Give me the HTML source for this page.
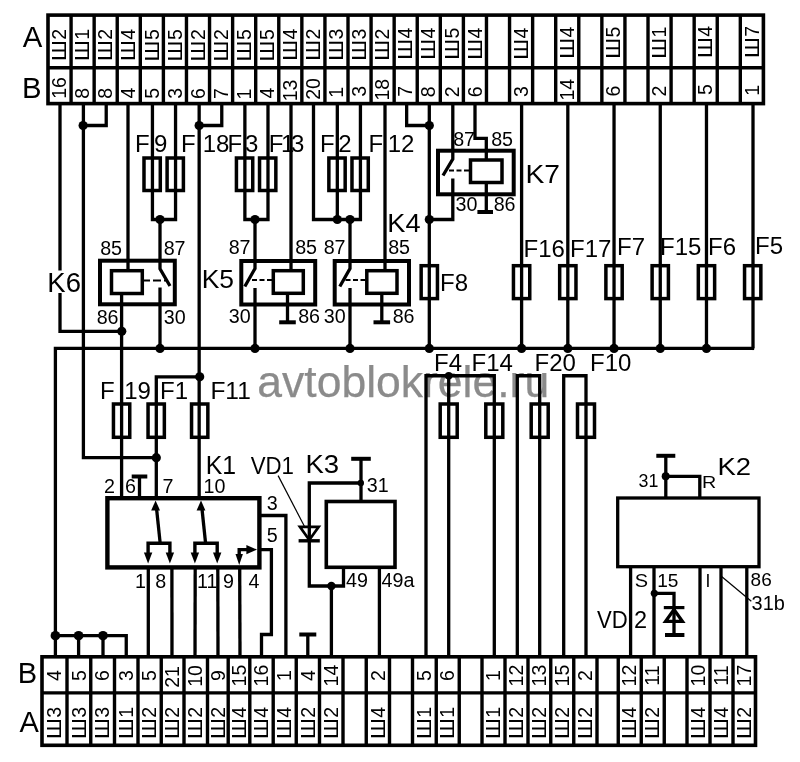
<!DOCTYPE html>
<html><head><meta charset="utf-8"><title>avtoblokrele.ru</title>
<style>html,body{margin:0;padding:0;background:#fff}svg{display:block;will-change:transform}text{font-family:"Liberation Sans",Arial,sans-serif}</style>
</head><body>
<svg width="800" height="762" viewBox="0 0 800 762">
<rect width="800" height="762" fill="#fff"/>
<text x="257.31" y="397.2" font-size="44.5" text-anchor="start" fill="#8b8b8b" stroke="#8b8b8b" stroke-width="0.25">avtoblokrele.ru</text>
<rect x="48" y="15.1" width="715.4" height="88.5" fill="none" stroke="#000" stroke-width="3.6"/>
<path d="M48 67.8 L763.4 67.8" fill="none" stroke="#000" stroke-width="3.4" stroke-linecap="butt" stroke-linejoin="miter"/>
<path d="M71.0774 15.1 L71.0774 103.6" fill="none" stroke="#000" stroke-width="3.4" stroke-linecap="butt" stroke-linejoin="miter"/>
<path d="M94.1548 15.1 L94.1548 103.6" fill="none" stroke="#000" stroke-width="3.4" stroke-linecap="butt" stroke-linejoin="miter"/>
<path d="M117.232 15.1 L117.232 103.6" fill="none" stroke="#000" stroke-width="3.4" stroke-linecap="butt" stroke-linejoin="miter"/>
<path d="M140.31 15.1 L140.31 103.6" fill="none" stroke="#000" stroke-width="3.4" stroke-linecap="butt" stroke-linejoin="miter"/>
<path d="M163.387 15.1 L163.387 103.6" fill="none" stroke="#000" stroke-width="3.4" stroke-linecap="butt" stroke-linejoin="miter"/>
<path d="M186.465 15.1 L186.465 103.6" fill="none" stroke="#000" stroke-width="3.4" stroke-linecap="butt" stroke-linejoin="miter"/>
<path d="M209.542 15.1 L209.542 103.6" fill="none" stroke="#000" stroke-width="3.4" stroke-linecap="butt" stroke-linejoin="miter"/>
<path d="M232.619 15.1 L232.619 103.6" fill="none" stroke="#000" stroke-width="3.4" stroke-linecap="butt" stroke-linejoin="miter"/>
<path d="M255.697 15.1 L255.697 103.6" fill="none" stroke="#000" stroke-width="3.4" stroke-linecap="butt" stroke-linejoin="miter"/>
<path d="M278.774 15.1 L278.774 103.6" fill="none" stroke="#000" stroke-width="3.4" stroke-linecap="butt" stroke-linejoin="miter"/>
<path d="M301.852 15.1 L301.852 103.6" fill="none" stroke="#000" stroke-width="3.4" stroke-linecap="butt" stroke-linejoin="miter"/>
<path d="M324.929 15.1 L324.929 103.6" fill="none" stroke="#000" stroke-width="3.4" stroke-linecap="butt" stroke-linejoin="miter"/>
<path d="M348.006 15.1 L348.006 103.6" fill="none" stroke="#000" stroke-width="3.4" stroke-linecap="butt" stroke-linejoin="miter"/>
<path d="M371.084 15.1 L371.084 103.6" fill="none" stroke="#000" stroke-width="3.4" stroke-linecap="butt" stroke-linejoin="miter"/>
<path d="M394.161 15.1 L394.161 103.6" fill="none" stroke="#000" stroke-width="3.4" stroke-linecap="butt" stroke-linejoin="miter"/>
<path d="M417.239 15.1 L417.239 103.6" fill="none" stroke="#000" stroke-width="3.4" stroke-linecap="butt" stroke-linejoin="miter"/>
<path d="M440.316 15.1 L440.316 103.6" fill="none" stroke="#000" stroke-width="3.4" stroke-linecap="butt" stroke-linejoin="miter"/>
<path d="M463.394 15.1 L463.394 103.6" fill="none" stroke="#000" stroke-width="3.4" stroke-linecap="butt" stroke-linejoin="miter"/>
<path d="M486.471 15.1 L486.471 103.6" fill="none" stroke="#000" stroke-width="3.4" stroke-linecap="butt" stroke-linejoin="miter"/>
<path d="M509.548 15.1 L509.548 103.6" fill="none" stroke="#000" stroke-width="3.4" stroke-linecap="butt" stroke-linejoin="miter"/>
<path d="M532.626 15.1 L532.626 103.6" fill="none" stroke="#000" stroke-width="3.4" stroke-linecap="butt" stroke-linejoin="miter"/>
<path d="M555.703 15.1 L555.703 103.6" fill="none" stroke="#000" stroke-width="3.4" stroke-linecap="butt" stroke-linejoin="miter"/>
<path d="M578.781 15.1 L578.781 103.6" fill="none" stroke="#000" stroke-width="3.4" stroke-linecap="butt" stroke-linejoin="miter"/>
<path d="M601.858 15.1 L601.858 103.6" fill="none" stroke="#000" stroke-width="3.4" stroke-linecap="butt" stroke-linejoin="miter"/>
<path d="M624.935 15.1 L624.935 103.6" fill="none" stroke="#000" stroke-width="3.4" stroke-linecap="butt" stroke-linejoin="miter"/>
<path d="M648.013 15.1 L648.013 103.6" fill="none" stroke="#000" stroke-width="3.4" stroke-linecap="butt" stroke-linejoin="miter"/>
<path d="M671.09 15.1 L671.09 103.6" fill="none" stroke="#000" stroke-width="3.4" stroke-linecap="butt" stroke-linejoin="miter"/>
<path d="M694.168 15.1 L694.168 103.6" fill="none" stroke="#000" stroke-width="3.4" stroke-linecap="butt" stroke-linejoin="miter"/>
<path d="M717.245 15.1 L717.245 103.6" fill="none" stroke="#000" stroke-width="3.4" stroke-linecap="butt" stroke-linejoin="miter"/>
<path d="M740.323 15.1 L740.323 103.6" fill="none" stroke="#000" stroke-width="3.4" stroke-linecap="butt" stroke-linejoin="miter"/>
<g transform="translate(66.2387 61.07) rotate(-90)" font-size="19.5"><text transform="scale(1.17 1)">Ш</text><text x="21.41">2</text></g>
<text transform="translate(66.2387 98.79) rotate(-90)" font-size="19.5" text-anchor="start">16</text>
<g transform="translate(89.3161 61.07) rotate(-90)" font-size="19.5"><text transform="scale(1.17 1)">Ш</text><text x="21.41">1</text></g>
<text transform="translate(89.3161 98.85) rotate(-90)" font-size="19.5" text-anchor="start">8</text>
<g transform="translate(112.394 61.07) rotate(-90)" font-size="19.5"><text transform="scale(1.17 1)">Ш</text><text x="21.41">2</text></g>
<text transform="translate(112.394 98.85) rotate(-90)" font-size="19.5" text-anchor="start">8</text>
<g transform="translate(135.471 61.07) rotate(-90)" font-size="19.5"><text transform="scale(1.17 1)">Ш</text><text x="21.41">4</text></g>
<text transform="translate(135.471 98.45) rotate(-90)" font-size="19.5" text-anchor="start">4</text>
<g transform="translate(158.548 61.47) rotate(-90)" font-size="19.5"><text transform="scale(1.17 1)">Ш</text><text x="21.41">5</text></g>
<text transform="translate(158.548 98.78) rotate(-90)" font-size="19.5" text-anchor="start">5</text>
<g transform="translate(181.626 61.47) rotate(-90)" font-size="19.5"><text transform="scale(1.17 1)">Ш</text><text x="21.41">5</text></g>
<text transform="translate(181.626 98.74) rotate(-90)" font-size="19.5" text-anchor="start">3</text>
<g transform="translate(204.703 61.47) rotate(-90)" font-size="19.5"><text transform="scale(1.17 1)">Ш</text><text x="21.41">2</text></g>
<text transform="translate(204.703 98.99) rotate(-90)" font-size="19.5" text-anchor="start">6</text>
<g transform="translate(227.781 61.47) rotate(-90)" font-size="19.5"><text transform="scale(1.17 1)">Ш</text><text x="21.41">2</text></g>
<text transform="translate(227.781 99.00) rotate(-90)" font-size="19.5" text-anchor="start">7</text>
<g transform="translate(250.858 61.47) rotate(-90)" font-size="19.5"><text transform="scale(1.17 1)">Ш</text><text x="21.41">5</text></g>
<text transform="translate(250.858 99.49) rotate(-90)" font-size="19.5" text-anchor="start">1</text>
<g transform="translate(273.935 61.47) rotate(-90)" font-size="19.5"><text transform="scale(1.17 1)">Ш</text><text x="21.41">5</text></g>
<text transform="translate(273.935 98.45) rotate(-90)" font-size="19.5" text-anchor="start">4</text>
<g transform="translate(297.013 60.87) rotate(-90)" font-size="19.5"><text transform="scale(1.17 1)">Ш</text><text x="21.41">4</text></g>
<text transform="translate(297.013 101.24) rotate(-90)" font-size="19.5" text-anchor="start">13</text>
<g transform="translate(320.09 60.87) rotate(-90)" font-size="19.5"><text transform="scale(1.17 1)">Ш</text><text x="21.41">2</text></g>
<text transform="translate(320.09 99.78) rotate(-90)" font-size="19.5" text-anchor="start">20</text>
<g transform="translate(343.168 60.87) rotate(-90)" font-size="19.5"><text transform="scale(1.17 1)">Ш</text><text x="21.41">3</text></g>
<text transform="translate(343.168 97.79) rotate(-90)" font-size="19.5" text-anchor="start">1</text>
<g transform="translate(366.245 60.87) rotate(-90)" font-size="19.5"><text transform="scale(1.17 1)">Ш</text><text x="21.41">3</text></g>
<text transform="translate(366.245 96.64) rotate(-90)" font-size="19.5" text-anchor="start">3</text>
<g transform="translate(389.323 60.87) rotate(-90)" font-size="19.5"><text transform="scale(1.17 1)">Ш</text><text x="21.41">2</text></g>
<text transform="translate(389.323 100.49) rotate(-90)" font-size="19.5" text-anchor="start">18</text>
<g transform="translate(412.4 59.87) rotate(-90)" font-size="19.5"><text transform="scale(1.17 1)">Ш</text><text x="21.41">4</text></g>
<text transform="translate(412.4 96.70) rotate(-90)" font-size="19.5" text-anchor="start">7</text>
<g transform="translate(435.477 59.87) rotate(-90)" font-size="19.5"><text transform="scale(1.17 1)">Ш</text><text x="21.41">4</text></g>
<text transform="translate(435.477 97.15) rotate(-90)" font-size="19.5" text-anchor="start">8</text>
<g transform="translate(458.555 59.87) rotate(-90)" font-size="19.5"><text transform="scale(1.17 1)">Ш</text><text x="21.41">5</text></g>
<text transform="translate(458.555 97.28) rotate(-90)" font-size="19.5" text-anchor="start">2</text>
<g transform="translate(481.632 59.87) rotate(-90)" font-size="19.5"><text transform="scale(1.17 1)">Ш</text><text x="21.41">4</text></g>
<text transform="translate(481.632 97.29) rotate(-90)" font-size="19.5" text-anchor="start">6</text>
<g transform="translate(527.787 59.87) rotate(-90)" font-size="19.5"><text transform="scale(1.17 1)">Ш</text><text x="21.41">4</text></g>
<text transform="translate(527.787 97.04) rotate(-90)" font-size="19.5" text-anchor="start">3</text>
<g transform="translate(573.942 58.87) rotate(-90)" font-size="19.5"><text transform="scale(1.17 1)">Ш</text><text x="21.41">4</text></g>
<text transform="translate(573.942 100.49) rotate(-90)" font-size="19.5" text-anchor="start">14</text>
<g transform="translate(620.097 58.87) rotate(-90)" font-size="19.5"><text transform="scale(1.17 1)">Ш</text><text x="21.41">5</text></g>
<text transform="translate(620.097 96.59) rotate(-90)" font-size="19.5" text-anchor="start">6</text>
<g transform="translate(666.252 58.87) rotate(-90)" font-size="19.5"><text transform="scale(1.17 1)">Ш</text><text x="21.41">1</text></g>
<text transform="translate(666.252 96.58) rotate(-90)" font-size="19.5" text-anchor="start">2</text>
<g transform="translate(712.406 58.07) rotate(-90)" font-size="19.5"><text transform="scale(1.17 1)">Ш</text><text x="21.41">4</text></g>
<text transform="translate(712.406 95.08) rotate(-90)" font-size="19.5" text-anchor="start">5</text>
<g transform="translate(758.561 58.07) rotate(-90)" font-size="19.5"><text transform="scale(1.17 1)">Ш</text><text x="21.41">7</text></g>
<text transform="translate(758.561 95.79) rotate(-90)" font-size="19.5" text-anchor="start">1</text>
<text x="22.84" y="47.1" font-size="29.3" text-anchor="start" fill="#000" >A</text>
<text x="22.00" y="98" font-size="29.3" text-anchor="start" fill="#000" >B</text>
<path d="M60 103.6 L60 331.3 L121.75 331.3" fill="none" stroke="#000" stroke-width="3.3" stroke-linecap="butt" stroke-linejoin="miter"/>
<path d="M83.4 103.6 L83.4 457.7 L156 457.7" fill="none" stroke="#000" stroke-width="3.3" stroke-linecap="butt" stroke-linejoin="miter"/>
<path d="M106.22 103.6 L106.22 125.5 L83.11 125.5" fill="none" stroke="#000" stroke-width="3.3" stroke-linecap="butt" stroke-linejoin="miter"/>
<circle cx="83.11" cy="125.5" r="4.6" fill="#000"/>
<path d="M128 103.6 L128 270.7" fill="none" stroke="#000" stroke-width="3.3" stroke-linecap="butt" stroke-linejoin="miter"/>
<path d="M152.44 103.6 L152.44 219.5 L175.55 219.5 L175.55 103.6" fill="none" stroke="#000" stroke-width="3.3" stroke-linecap="butt" stroke-linejoin="miter"/>
<circle cx="160" cy="219.5" r="4.6" fill="#000"/>
<path d="M199.16 103.6 L199.16 499" fill="none" stroke="#000" stroke-width="3.3" stroke-linecap="butt" stroke-linejoin="miter"/>
<path d="M221.77 103.6 L221.77 125.5 L198.66 125.5" fill="none" stroke="#000" stroke-width="3.3" stroke-linecap="butt" stroke-linejoin="miter"/>
<circle cx="199.16" cy="125.5" r="4.6" fill="#000"/>
<path d="M244.88 103.6 L244.88 219.5 L267.99 219.5 L267.99 103.6" fill="none" stroke="#000" stroke-width="3.3" stroke-linecap="butt" stroke-linejoin="miter"/>
<circle cx="255" cy="219.5" r="4.6" fill="#000"/>
<path d="M291 103.6 L291 271" fill="none" stroke="#000" stroke-width="3.3" stroke-linecap="butt" stroke-linejoin="miter"/>
<path d="M313.5 103.6 L313.5 219.5 L360.43 219.5 L360.43 103.6" fill="none" stroke="#000" stroke-width="3.3" stroke-linecap="butt" stroke-linejoin="miter"/>
<path d="M337.32 103.6 L337.32 219.5" fill="none" stroke="#000" stroke-width="3.3" stroke-linecap="butt" stroke-linejoin="miter"/>
<circle cx="337.32" cy="219.5" r="4.6" fill="#000"/>
<circle cx="350" cy="219.5" r="4.6" fill="#000"/>
<path d="M385 103.6 L385 271" fill="none" stroke="#000" stroke-width="3.3" stroke-linecap="butt" stroke-linejoin="miter"/>
<path d="M406.65 103.6 L406.65 125.5 L429.76 125.5" fill="none" stroke="#000" stroke-width="3.3" stroke-linecap="butt" stroke-linejoin="miter"/>
<path d="M429.3 103.6 L429.3 348.4" fill="none" stroke="#000" stroke-width="3.3" stroke-linecap="butt" stroke-linejoin="miter"/>
<circle cx="429.3" cy="125.5" r="4.6" fill="#000"/>
<circle cx="429.3" cy="219.5" r="4.6" fill="#000"/>
<path d="M452.8 103.6 L452.8 159 L443 175.5" fill="none" stroke="#000" stroke-width="3.3" stroke-linecap="butt" stroke-linejoin="miter"/>
<path d="M452.8 178.5 L452.8 219.5 L429.3 219.5" fill="none" stroke="#000" stroke-width="3.3" stroke-linecap="butt" stroke-linejoin="miter"/>
<path d="M475 103.6 L475 138.4 L486.3 138.4 L486.3 160" fill="none" stroke="#000" stroke-width="3.3" stroke-linecap="butt" stroke-linejoin="miter"/>
<path d="M521.6 103.6 L521.6 348.4" fill="none" stroke="#000" stroke-width="3.3" stroke-linecap="butt" stroke-linejoin="miter"/>
<circle cx="521.6" cy="348.4" r="4.6" fill="#000"/>
<path d="M567.82 103.6 L567.82 348.4" fill="none" stroke="#000" stroke-width="3.3" stroke-linecap="butt" stroke-linejoin="miter"/>
<circle cx="567.82" cy="348.4" r="4.6" fill="#000"/>
<path d="M614.04 103.6 L614.04 348.4" fill="none" stroke="#000" stroke-width="3.3" stroke-linecap="butt" stroke-linejoin="miter"/>
<circle cx="614.04" cy="348.4" r="4.6" fill="#000"/>
<path d="M660.26 103.6 L660.26 348.4" fill="none" stroke="#000" stroke-width="3.3" stroke-linecap="butt" stroke-linejoin="miter"/>
<circle cx="660.26" cy="348.4" r="4.6" fill="#000"/>
<path d="M706.48 103.6 L706.48 348.4" fill="none" stroke="#000" stroke-width="3.3" stroke-linecap="butt" stroke-linejoin="miter"/>
<circle cx="706.48" cy="348.4" r="4.6" fill="#000"/>
<path d="M753 103.6 L753 348.4" fill="none" stroke="#000" stroke-width="3.3" stroke-linecap="butt" stroke-linejoin="miter"/>
<path d="M55.4 638 L55.4 348.4 L753 348.4" fill="none" stroke="#000" stroke-width="3.3" stroke-linecap="butt" stroke-linejoin="miter"/>
<path d="M752 348.4 L754.15 348.4" fill="none" stroke="#000" stroke-width="3.3" stroke-linecap="butt" stroke-linejoin="miter"/>
<circle cx="429.3" cy="348.4" r="4.6" fill="#000"/>
<rect x="143.99" y="158" width="16.3" height="32.5" fill="none" stroke="#000" stroke-width="3.5"/>
<rect x="167.1" y="158" width="16.3" height="32.5" fill="none" stroke="#000" stroke-width="3.5"/>
<rect x="236.43" y="158" width="16.3" height="32.5" fill="none" stroke="#000" stroke-width="3.5"/>
<rect x="259.54" y="158" width="16.3" height="32.5" fill="none" stroke="#000" stroke-width="3.5"/>
<rect x="328.87" y="158" width="16.3" height="32.5" fill="none" stroke="#000" stroke-width="3.5"/>
<rect x="351.98" y="158" width="16.3" height="32.5" fill="none" stroke="#000" stroke-width="3.5"/>
<rect x="421.15" y="265.7" width="16.3" height="32.9" fill="none" stroke="#000" stroke-width="3.5"/>
<rect x="513.45" y="265.7" width="16.3" height="32.9" fill="none" stroke="#000" stroke-width="3.5"/>
<rect x="559.67" y="265.7" width="16.3" height="32.9" fill="none" stroke="#000" stroke-width="3.5"/>
<rect x="605.89" y="265.7" width="16.3" height="32.9" fill="none" stroke="#000" stroke-width="3.5"/>
<rect x="652.11" y="265.7" width="16.3" height="32.9" fill="none" stroke="#000" stroke-width="3.5"/>
<rect x="698.33" y="265.7" width="16.3" height="32.9" fill="none" stroke="#000" stroke-width="3.5"/>
<rect x="744.55" y="265.7" width="16.3" height="32.9" fill="none" stroke="#000" stroke-width="3.5"/>
<text x="135.03" y="151.6" font-size="24" text-anchor="start" fill="#000" >F</text>
<text x="153.88" y="151.6" font-size="24" text-anchor="start" fill="#000" >9</text>
<text x="181.03" y="151.6" font-size="24" text-anchor="start" fill="#000" >F</text>
<text x="202.67" y="151.6" font-size="24" text-anchor="start" fill="#000" >18</text>
<text x="227.53" y="151.6" font-size="24" text-anchor="start" fill="#000" >F</text>
<text x="245.09" y="151.6" font-size="24" text-anchor="start" fill="#000" >3</text>
<text x="268.63" y="151.6" font-size="24" text-anchor="start" fill="#000" >F</text>
<text x="280.97" y="151.6" font-size="24" text-anchor="start" fill="#000" >1</text>
<text x="290.99" y="151.6" font-size="24" text-anchor="start" fill="#000" >3</text>
<text x="320.03" y="151.6" font-size="24" text-anchor="start" fill="#000" >F</text>
<text x="338.29" y="151.6" font-size="24" text-anchor="start" fill="#000" >2</text>
<text x="368.53" y="151.6" font-size="24" text-anchor="start" fill="#000" >F</text>
<text x="387.67" y="151.6" font-size="24" text-anchor="start" fill="#000" >12</text>
<text x="440.03" y="290.5" font-size="24" text-anchor="start" fill="#000" >F8</text>
<text x="523.53" y="256.5" font-size="24" text-anchor="start" fill="#000" >F16</text>
<text x="570.03" y="256.5" font-size="24" text-anchor="start" fill="#000" >F17</text>
<text x="617.03" y="254.6" font-size="24" text-anchor="start" fill="#000" >F7</text>
<text x="660.03" y="254.6" font-size="24" text-anchor="start" fill="#000" >F15</text>
<text x="708.03" y="254.6" font-size="24" text-anchor="start" fill="#000" >F6</text>
<text x="755.03" y="253.5" font-size="24" text-anchor="start" fill="#000" >F5</text>
<text x="434.03" y="371" font-size="24" text-anchor="start" fill="#000" >F4</text>
<text x="471.53" y="371" font-size="24" text-anchor="start" fill="#000" >F14</text>
<text x="534.53" y="371" font-size="24" text-anchor="start" fill="#000" >F20</text>
<text x="590.03" y="371" font-size="24" text-anchor="start" fill="#000" >F10</text>
<rect x="100" y="260.7" width="74.8" height="43.6" fill="none" stroke="#000" stroke-width="4.0"/>
<rect x="111.5" y="270.7" width="30.8" height="22.8" fill="none" stroke="#000" stroke-width="3.5"/>
<path d="M121.6 293.5 L121.6 499" fill="none" stroke="#000" stroke-width="3.3" stroke-linecap="butt" stroke-linejoin="miter"/>
<circle cx="121.75" cy="331.3" r="4.6" fill="#000"/>
<path d="M160 219.5 L160 268.75 L170 286" fill="none" stroke="#000" stroke-width="3.3" stroke-linecap="butt" stroke-linejoin="miter"/>
<path d="M160 287.5 L160 348.4" fill="none" stroke="#000" stroke-width="3.3" stroke-linecap="butt" stroke-linejoin="miter"/>
<circle cx="160" cy="348.4" r="4.6" fill="#000"/>
<path d="M143.5 280.5 L166 280.5" fill="none" stroke="#000" stroke-width="2" stroke-dasharray="6.5 3 8 3"/>
<text x="100.14" y="255.2" font-size="19.7" text-anchor="start" fill="#000" >85</text>
<text x="163.64" y="255.2" font-size="19.7" text-anchor="start" fill="#000" >87</text>
<text x="96.64" y="324.4" font-size="19.7" text-anchor="start" fill="#000" >86</text>
<text x="163.75" y="324.4" font-size="19.7" text-anchor="start" fill="#000" >30</text>
<rect x="48" y="270.5" width="33" height="22.5" fill="#fff"/>
<text transform="translate(47.34 291.6) scale(1.019 1)" font-size="27" text-anchor="start" fill="#000" >K6</text>
<rect x="241.3" y="261" width="73.9" height="43.5" fill="none" stroke="#000" stroke-width="4.0"/>
<rect x="273.3" y="270.7" width="30" height="22.6" fill="none" stroke="#000" stroke-width="3.5"/>
<path d="M255 219.5 L255 268.5 L244.8 286.5" fill="none" stroke="#000" stroke-width="3.3" stroke-linecap="butt" stroke-linejoin="miter"/>
<path d="M255 288 L255 348.4" fill="none" stroke="#000" stroke-width="3.3" stroke-linecap="butt" stroke-linejoin="miter"/>
<circle cx="255" cy="348.4" r="4.6" fill="#000"/>
<path d="M287.5 322.3 L287.5 293.3" fill="none" stroke="#000" stroke-width="3.3" stroke-linecap="butt" stroke-linejoin="miter"/>
<path d="M279.2 322.3 L295.8 322.3" fill="none" stroke="#000" stroke-width="4.0" stroke-linecap="butt" stroke-linejoin="miter"/>
<rect x="334.7" y="261" width="74.3" height="43.5" fill="none" stroke="#000" stroke-width="4.0"/>
<rect x="366.8" y="270.7" width="30.2" height="22.6" fill="none" stroke="#000" stroke-width="3.5"/>
<path d="M350 219.5 L350 268.5 L339.8 286.5" fill="none" stroke="#000" stroke-width="3.3" stroke-linecap="butt" stroke-linejoin="miter"/>
<path d="M350 288 L350 348.4" fill="none" stroke="#000" stroke-width="3.3" stroke-linecap="butt" stroke-linejoin="miter"/>
<circle cx="350" cy="348.4" r="4.6" fill="#000"/>
<path d="M381.8 322.3 L381.8 293.3" fill="none" stroke="#000" stroke-width="3.3" stroke-linecap="butt" stroke-linejoin="miter"/>
<path d="M373.5 322.3 L390.1 322.3" fill="none" stroke="#000" stroke-width="4.0" stroke-linecap="butt" stroke-linejoin="miter"/>
<text x="228.64" y="254.3" font-size="19.7" text-anchor="start" fill="#000" >87</text>
<text x="295.14" y="254.3" font-size="19.7" text-anchor="start" fill="#000" >85</text>
<text x="323.64" y="254.3" font-size="19.7" text-anchor="start" fill="#000" >87</text>
<text x="388.14" y="254.3" font-size="19.7" text-anchor="start" fill="#000" >85</text>
<text x="228.75" y="322.8" font-size="19.7" text-anchor="start" fill="#000" >30</text>
<text x="298.14" y="322.8" font-size="19.7" text-anchor="start" fill="#000" >86</text>
<text x="323.75" y="322.8" font-size="19.7" text-anchor="start" fill="#000" >30</text>
<text x="392.64" y="322.8" font-size="19.7" text-anchor="start" fill="#000" >86</text>
<text transform="translate(201.73 287.9) scale(1.018 1)" font-size="26" text-anchor="start" fill="#000" >K5</text>
<text transform="translate(387.37 232.3) scale(1.065 1)" font-size="25.5" text-anchor="start" fill="#000" >K4</text>
<rect x="438" y="150.7" width="75.7" height="43.6" fill="none" stroke="#000" stroke-width="4.0"/>
<rect x="470.5" y="160" width="31.5" height="22.5" fill="none" stroke="#000" stroke-width="3.5"/>
<path d="M486.3 182.5 L486.3 212" fill="none" stroke="#000" stroke-width="3.3" stroke-linecap="butt" stroke-linejoin="miter"/>
<path d="M477.4 212 L493 212" fill="none" stroke="#000" stroke-width="4.0" stroke-linecap="butt" stroke-linejoin="miter"/>
<text x="453.14" y="145.7" font-size="19.7" text-anchor="start" fill="#000" >87</text>
<text x="491.14" y="145.7" font-size="19.7" text-anchor="start" fill="#000" >85</text>
<text x="455.45" y="211.2" font-size="19.7" text-anchor="start" fill="#000" >30</text>
<text x="493.64" y="211.2" font-size="19.7" text-anchor="start" fill="#000" >86</text>
<text transform="translate(525.38 183.2) scale(1.107 1)" font-size="25.5" text-anchor="start" fill="#000" >K7</text>
<rect x="113.45" y="404" width="16.3" height="33.3" fill="none" stroke="#000" stroke-width="3.5"/>
<rect x="148.05" y="404" width="16.3" height="33.3" fill="none" stroke="#000" stroke-width="3.5"/>
<rect x="191.55" y="404" width="16.3" height="33.3" fill="none" stroke="#000" stroke-width="3.5"/>
<path d="M199.7 376.8 L156.3 376.8 L156.3 499" fill="none" stroke="#000" stroke-width="3.3" stroke-linecap="butt" stroke-linejoin="miter"/>
<circle cx="199.7" cy="376.8" r="4.6" fill="#000"/>
<circle cx="156.3" cy="457.7" r="4.6" fill="#000"/>
<text x="100.03" y="399.2" font-size="24" text-anchor="start" fill="#000" >F</text>
<text x="124.17" y="399.2" font-size="24" text-anchor="start" fill="#000" >19</text>
<text x="160.03" y="399.2" font-size="24" text-anchor="start" fill="#000" >F1</text>
<text transform="translate(210.39 399.2) scale(1.021 1)" font-size="24" text-anchor="start" fill="#000" >F11</text>
<text transform="translate(205.67 474.2) scale(0.954 1)" font-size="26" text-anchor="start" fill="#000" >K1</text>
<text x="104.01" y="492.7" font-size="19.7" text-anchor="start" fill="#000" >2</text>
<text x="125.00" y="492.7" font-size="19.7" text-anchor="start" fill="#000" >6</text>
<text x="162.49" y="492.7" font-size="19.7" text-anchor="start" fill="#000" >7</text>
<text x="203.50" y="492.7" font-size="19.7" text-anchor="start" fill="#000" >10</text>
<path d="M139.5 476.5 L139.5 499" fill="none" stroke="#000" stroke-width="3.3" stroke-linecap="butt" stroke-linejoin="miter"/>
<path d="M131.7 476.5 L147.3 476.5" fill="none" stroke="#000" stroke-width="4.0" stroke-linecap="butt" stroke-linejoin="miter"/>
<rect x="107.4" y="498.2" width="152" height="69.2" fill="none" stroke="#000" stroke-width="4.4"/>
<path d="M426 657 L426 375.75 L494.3 375.75 L494.3 657" fill="none" stroke="#000" stroke-width="3.3" stroke-linecap="butt" stroke-linejoin="miter"/>
<path d="M448.7 375.75 L448.7 657" fill="none" stroke="#000" stroke-width="3.3" stroke-linecap="butt" stroke-linejoin="miter"/>
<circle cx="448.7" cy="375.75" r="3.8" fill="#000"/>
<path d="M517.3 657 L517.3 375.75 L539.7 375.75 L539.7 657" fill="none" stroke="#000" stroke-width="3.3" stroke-linecap="butt" stroke-linejoin="miter"/>
<path d="M563.7 657 L563.7 375.75 L586 375.75 L586 657" fill="none" stroke="#000" stroke-width="3.3" stroke-linecap="butt" stroke-linejoin="miter"/>
<rect x="440.2" y="404" width="17" height="33.3" fill="none" stroke="#000" stroke-width="3.5"/>
<rect x="485.8" y="404" width="17" height="33.3" fill="none" stroke="#000" stroke-width="3.5"/>
<rect x="531.2" y="404" width="17" height="33.3" fill="none" stroke="#000" stroke-width="3.5"/>
<rect x="577.5" y="404" width="17" height="33.3" fill="none" stroke="#000" stroke-width="3.5"/>
<rect x="42" y="656.8" width="713.5" height="88.5" fill="none" stroke="#000" stroke-width="3.6"/>
<path d="M42 692.9 L755.5 692.9" fill="none" stroke="#000" stroke-width="3.4" stroke-linecap="butt" stroke-linejoin="miter"/>
<path d="M67 656.8 L67 745.3" fill="none" stroke="#000" stroke-width="3.4" stroke-linecap="butt" stroke-linejoin="miter"/>
<path d="M90.75 656.8 L90.75 745.3" fill="none" stroke="#000" stroke-width="3.4" stroke-linecap="butt" stroke-linejoin="miter"/>
<path d="M114.5 656.8 L114.5 745.3" fill="none" stroke="#000" stroke-width="3.4" stroke-linecap="butt" stroke-linejoin="miter"/>
<path d="M138 656.8 L138 745.3" fill="none" stroke="#000" stroke-width="3.4" stroke-linecap="butt" stroke-linejoin="miter"/>
<path d="M161.25 656.8 L161.25 745.3" fill="none" stroke="#000" stroke-width="3.4" stroke-linecap="butt" stroke-linejoin="miter"/>
<path d="M184 656.8 L184 745.3" fill="none" stroke="#000" stroke-width="3.4" stroke-linecap="butt" stroke-linejoin="miter"/>
<path d="M207.5 656.8 L207.5 745.3" fill="none" stroke="#000" stroke-width="3.4" stroke-linecap="butt" stroke-linejoin="miter"/>
<path d="M228.2 656.8 L228.2 745.3" fill="none" stroke="#000" stroke-width="3.4" stroke-linecap="butt" stroke-linejoin="miter"/>
<path d="M249.8 656.8 L249.8 745.3" fill="none" stroke="#000" stroke-width="3.4" stroke-linecap="butt" stroke-linejoin="miter"/>
<path d="M273.2 656.8 L273.2 745.3" fill="none" stroke="#000" stroke-width="3.4" stroke-linecap="butt" stroke-linejoin="miter"/>
<path d="M296.25 656.8 L296.25 745.3" fill="none" stroke="#000" stroke-width="3.4" stroke-linecap="butt" stroke-linejoin="miter"/>
<path d="M319.5 656.8 L319.5 745.3" fill="none" stroke="#000" stroke-width="3.4" stroke-linecap="butt" stroke-linejoin="miter"/>
<path d="M343 656.8 L343 745.3" fill="none" stroke="#000" stroke-width="3.4" stroke-linecap="butt" stroke-linejoin="miter"/>
<path d="M366.25 656.8 L366.25 745.3" fill="none" stroke="#000" stroke-width="3.4" stroke-linecap="butt" stroke-linejoin="miter"/>
<path d="M389.5 656.8 L389.5 745.3" fill="none" stroke="#000" stroke-width="3.4" stroke-linecap="butt" stroke-linejoin="miter"/>
<path d="M412.5 656.8 L412.5 745.3" fill="none" stroke="#000" stroke-width="3.4" stroke-linecap="butt" stroke-linejoin="miter"/>
<path d="M436.25 656.8 L436.25 745.3" fill="none" stroke="#000" stroke-width="3.4" stroke-linecap="butt" stroke-linejoin="miter"/>
<path d="M459.25 656.8 L459.25 745.3" fill="none" stroke="#000" stroke-width="3.4" stroke-linecap="butt" stroke-linejoin="miter"/>
<path d="M482 656.8 L482 745.3" fill="none" stroke="#000" stroke-width="3.4" stroke-linecap="butt" stroke-linejoin="miter"/>
<path d="M505 656.8 L505 745.3" fill="none" stroke="#000" stroke-width="3.4" stroke-linecap="butt" stroke-linejoin="miter"/>
<path d="M528 656.8 L528 745.3" fill="none" stroke="#000" stroke-width="3.4" stroke-linecap="butt" stroke-linejoin="miter"/>
<path d="M550.75 656.8 L550.75 745.3" fill="none" stroke="#000" stroke-width="3.4" stroke-linecap="butt" stroke-linejoin="miter"/>
<path d="M573.75 656.8 L573.75 745.3" fill="none" stroke="#000" stroke-width="3.4" stroke-linecap="butt" stroke-linejoin="miter"/>
<path d="M597 656.8 L597 745.3" fill="none" stroke="#000" stroke-width="3.4" stroke-linecap="butt" stroke-linejoin="miter"/>
<path d="M618.25 656.8 L618.25 745.3" fill="none" stroke="#000" stroke-width="3.4" stroke-linecap="butt" stroke-linejoin="miter"/>
<path d="M641.25 656.8 L641.25 745.3" fill="none" stroke="#000" stroke-width="3.4" stroke-linecap="butt" stroke-linejoin="miter"/>
<path d="M664.25 656.8 L664.25 745.3" fill="none" stroke="#000" stroke-width="3.4" stroke-linecap="butt" stroke-linejoin="miter"/>
<path d="M687 656.8 L687 745.3" fill="none" stroke="#000" stroke-width="3.4" stroke-linecap="butt" stroke-linejoin="miter"/>
<path d="M710 656.8 L710 745.3" fill="none" stroke="#000" stroke-width="3.4" stroke-linecap="butt" stroke-linejoin="miter"/>
<path d="M733 656.8 L733 745.3" fill="none" stroke="#000" stroke-width="3.4" stroke-linecap="butt" stroke-linejoin="miter"/>
<text transform="translate(61.2 675.60) rotate(-90)" font-size="19.5" text-anchor="middle">4</text>
<g transform="translate(61.2 739.07) rotate(-90)" font-size="19.5"><text transform="scale(1.17 1)">Ш</text><text x="21.41">3</text></g>
<text transform="translate(85.575 675.60) rotate(-90)" font-size="19.5" text-anchor="middle">5</text>
<g transform="translate(85.575 739.07) rotate(-90)" font-size="19.5"><text transform="scale(1.17 1)">Ш</text><text x="21.41">3</text></g>
<text transform="translate(109.325 675.60) rotate(-90)" font-size="19.5" text-anchor="middle">6</text>
<g transform="translate(109.325 739.07) rotate(-90)" font-size="19.5"><text transform="scale(1.17 1)">Ш</text><text x="21.41">3</text></g>
<text transform="translate(132.95 675.60) rotate(-90)" font-size="19.5" text-anchor="middle">3</text>
<g transform="translate(132.95 739.07) rotate(-90)" font-size="19.5"><text transform="scale(1.17 1)">Ш</text><text x="21.41">1</text></g>
<text transform="translate(156.325 675.60) rotate(-90)" font-size="19.5" text-anchor="middle">5</text>
<g transform="translate(156.325 739.07) rotate(-90)" font-size="19.5"><text transform="scale(1.17 1)">Ш</text><text x="21.41">2</text></g>
<text transform="translate(179.325 677.00) rotate(-90)" font-size="19.5" text-anchor="middle">21</text>
<g transform="translate(179.325 739.07) rotate(-90)" font-size="19.5"><text transform="scale(1.17 1)">Ш</text><text x="21.41">2</text></g>
<text transform="translate(202.45 676.00) rotate(-90)" font-size="19.5" text-anchor="middle">10</text>
<g transform="translate(202.45 739.07) rotate(-90)" font-size="19.5"><text transform="scale(1.17 1)">Ш</text><text x="21.41">2</text></g>
<text transform="translate(224.55 675.60) rotate(-90)" font-size="19.5" text-anchor="middle">9</text>
<g transform="translate(224.55 739.07) rotate(-90)" font-size="19.5"><text transform="scale(1.17 1)">Ш</text><text x="21.41">2</text></g>
<text transform="translate(245.7 675.60) rotate(-90)" font-size="19.5" text-anchor="middle">15</text>
<g transform="translate(245.7 739.07) rotate(-90)" font-size="19.5"><text transform="scale(1.17 1)">Ш</text><text x="21.41">4</text></g>
<text transform="translate(268.2 675.60) rotate(-90)" font-size="19.5" text-anchor="middle">16</text>
<g transform="translate(268.2 739.07) rotate(-90)" font-size="19.5"><text transform="scale(1.17 1)">Ш</text><text x="21.41">4</text></g>
<text transform="translate(291.425 675.60) rotate(-90)" font-size="19.5" text-anchor="middle">1</text>
<g transform="translate(291.425 739.07) rotate(-90)" font-size="19.5"><text transform="scale(1.17 1)">Ш</text><text x="21.41">4</text></g>
<text transform="translate(314.575 675.60) rotate(-90)" font-size="19.5" text-anchor="middle">4</text>
<g transform="translate(314.575 739.07) rotate(-90)" font-size="19.5"><text transform="scale(1.17 1)">Ш</text><text x="21.41">2</text></g>
<text transform="translate(337.95 675.60) rotate(-90)" font-size="19.5" text-anchor="middle">14</text>
<g transform="translate(337.95 739.07) rotate(-90)" font-size="19.5"><text transform="scale(1.17 1)">Ш</text><text x="21.41">2</text></g>
<text transform="translate(384.575 675.60) rotate(-90)" font-size="19.5" text-anchor="middle">2</text>
<g transform="translate(384.575 739.07) rotate(-90)" font-size="19.5"><text transform="scale(1.17 1)">Ш</text><text x="21.41">4</text></g>
<text transform="translate(431.075 675.60) rotate(-90)" font-size="19.5" text-anchor="middle">5</text>
<g transform="translate(431.075 739.07) rotate(-90)" font-size="19.5"><text transform="scale(1.17 1)">Ш</text><text x="21.41">1</text></g>
<text transform="translate(454.45 675.60) rotate(-90)" font-size="19.5" text-anchor="middle">6</text>
<g transform="translate(454.45 739.07) rotate(-90)" font-size="19.5"><text transform="scale(1.17 1)">Ш</text><text x="21.41">1</text></g>
<text transform="translate(500.2 675.60) rotate(-90)" font-size="19.5" text-anchor="middle">1</text>
<g transform="translate(500.2 739.07) rotate(-90)" font-size="19.5"><text transform="scale(1.17 1)">Ш</text><text x="21.41">1</text></g>
<text transform="translate(523.2 675.60) rotate(-90)" font-size="19.5" text-anchor="middle">12</text>
<g transform="translate(523.2 739.07) rotate(-90)" font-size="19.5"><text transform="scale(1.17 1)">Ш</text><text x="21.41">2</text></g>
<text transform="translate(546.075 675.60) rotate(-90)" font-size="19.5" text-anchor="middle">13</text>
<g transform="translate(546.075 739.07) rotate(-90)" font-size="19.5"><text transform="scale(1.17 1)">Ш</text><text x="21.41">2</text></g>
<text transform="translate(568.95 675.60) rotate(-90)" font-size="19.5" text-anchor="middle">15</text>
<g transform="translate(568.95 739.07) rotate(-90)" font-size="19.5"><text transform="scale(1.17 1)">Ш</text><text x="21.41">2</text></g>
<text transform="translate(592.075 675.60) rotate(-90)" font-size="19.5" text-anchor="middle">2</text>
<g transform="translate(592.075 739.07) rotate(-90)" font-size="19.5"><text transform="scale(1.17 1)">Ш</text><text x="21.41">2</text></g>
<text transform="translate(636.45 675.60) rotate(-90)" font-size="19.5" text-anchor="middle">12</text>
<g transform="translate(636.45 739.07) rotate(-90)" font-size="19.5"><text transform="scale(1.17 1)">Ш</text><text x="21.41">4</text></g>
<text transform="translate(659.45 675.60) rotate(-90)" font-size="19.5" text-anchor="middle">11</text>
<g transform="translate(659.45 739.07) rotate(-90)" font-size="19.5"><text transform="scale(1.17 1)">Ш</text><text x="21.41">2</text></g>
<text transform="translate(705.2 675.60) rotate(-90)" font-size="19.5" text-anchor="middle">10</text>
<g transform="translate(705.2 739.07) rotate(-90)" font-size="19.5"><text transform="scale(1.17 1)">Ш</text><text x="21.41">4</text></g>
<text transform="translate(728.2 675.60) rotate(-90)" font-size="19.5" text-anchor="middle">11</text>
<g transform="translate(728.2 739.07) rotate(-90)" font-size="19.5"><text transform="scale(1.17 1)">Ш</text><text x="21.41">4</text></g>
<text transform="translate(750.95 675.60) rotate(-90)" font-size="19.5" text-anchor="middle">17</text>
<g transform="translate(750.95 739.07) rotate(-90)" font-size="19.5"><text transform="scale(1.17 1)">Ш</text><text x="21.41">2</text></g>
<text x="17.82" y="683" font-size="29" text-anchor="start" fill="#000" >B</text>
<text x="19.54" y="732" font-size="29" text-anchor="start" fill="#000" >A</text>
<path d="M252 280 L273 280" fill="none" stroke="#000" stroke-width="1.8" stroke-dasharray="5 2.5"/>
<path d="M345.5 280 L366.5 280" fill="none" stroke="#000" stroke-width="1.8" stroke-dasharray="5 2.5"/>
<path d="M449 170.5 L469 170.5" fill="none" stroke="#000" stroke-width="1.8" stroke-dasharray="5 2.5"/>
<path d="M156.5 508 L160.2 543.3" fill="none" stroke="#000" stroke-width="3.3" stroke-linecap="butt" stroke-linejoin="miter"/>
<polygon points="151.2,510.4 160,510.4 155.6,500.4" fill="#000" stroke="none" stroke-width="0" stroke-linejoin="miter"/>
<path d="M148.1 553.5 L148.1 543.3 L169.9 543.3 L169.9 553.5" fill="none" stroke="#000" stroke-width="3.4" stroke-linecap="butt" stroke-linejoin="miter"/>
<polygon points="143.9,552.4 152.3,552.4 148.1,563.4" fill="#000" stroke="none" stroke-width="0" stroke-linejoin="miter"/>
<polygon points="165.7,552.4 174.1,552.4 169.9,563.4" fill="#000" stroke="none" stroke-width="0" stroke-linejoin="miter"/>
<path d="M201.9 508 L205.6 543.3" fill="none" stroke="#000" stroke-width="3.3" stroke-linecap="butt" stroke-linejoin="miter"/>
<polygon points="196.6,510.4 205.4,510.4 201,500.4" fill="#000" stroke="none" stroke-width="0" stroke-linejoin="miter"/>
<path d="M194.9 553.5 L194.9 543.3 L217.2 543.3 L217.2 553.5" fill="none" stroke="#000" stroke-width="3.4" stroke-linecap="butt" stroke-linejoin="miter"/>
<polygon points="190.7,552.4 199.1,552.4 194.9,563.4" fill="#000" stroke="none" stroke-width="0" stroke-linejoin="miter"/>
<polygon points="213,552.4 221.4,552.4 217.2,563.4" fill="#000" stroke="none" stroke-width="0" stroke-linejoin="miter"/>
<path d="M239.2 555 L239.2 549.6 L247.5 549.6" fill="none" stroke="#000" stroke-width="3.4" stroke-linecap="butt" stroke-linejoin="miter"/>
<polygon points="235.5,554 242.9,554 239.2,565" fill="#000" stroke="none" stroke-width="0" stroke-linejoin="miter"/>
<polygon points="246.4,545 246.4,554.2 257,549.6" fill="#000" stroke="none" stroke-width="0" stroke-linejoin="miter"/>
<path d="M148.3 567.5 L148.3 657" fill="none" stroke="#000" stroke-width="3.3" stroke-linecap="butt" stroke-linejoin="miter"/>
<path d="M171.9 567.5 L172 657" fill="none" stroke="#000" stroke-width="3.3" stroke-linecap="butt" stroke-linejoin="miter"/>
<path d="M195.2 567.5 L195 657" fill="none" stroke="#000" stroke-width="3.3" stroke-linecap="butt" stroke-linejoin="miter"/>
<path d="M217.8 567.5 L218 657" fill="none" stroke="#000" stroke-width="3.3" stroke-linecap="butt" stroke-linejoin="miter"/>
<path d="M239.7 567.5 L240 657" fill="none" stroke="#000" stroke-width="3.3" stroke-linecap="butt" stroke-linejoin="miter"/>
<path d="M259.4 515.5 L285.9 515.5 L285.9 657" fill="none" stroke="#000" stroke-width="3.3" stroke-linecap="butt" stroke-linejoin="miter"/>
<path d="M259.4 549.6 L271.4 549.6 L271.4 634.5 L261.5 634.5 L261.5 657" fill="none" stroke="#000" stroke-width="3.3" stroke-linecap="butt" stroke-linejoin="miter"/>
<text x="135.00" y="587.7" font-size="19.7" text-anchor="start" fill="#000" >1</text>
<text x="155.14" y="587.7" font-size="19.7" text-anchor="start" fill="#000" >8</text>
<text x="197.00" y="587.7" font-size="19.7" text-anchor="start" fill="#000" >11</text>
<text x="223.08" y="587.7" font-size="19.7" text-anchor="start" fill="#000" >9</text>
<text x="248.55" y="587.7" font-size="19.7" text-anchor="start" fill="#000" >4</text>
<text x="266.75" y="510.2" font-size="19.7" text-anchor="start" fill="#000" >3</text>
<text x="266.71" y="542.1" font-size="19.7" text-anchor="start" fill="#000" >5</text>
<path d="M55.4 635.7 L126.25 635.7 L126.25 657" fill="none" stroke="#000" stroke-width="3.3" stroke-linecap="butt" stroke-linejoin="miter"/>
<path d="M55.4 635.7 L55.4 657" fill="none" stroke="#000" stroke-width="3.3" stroke-linecap="butt" stroke-linejoin="miter"/>
<circle cx="55.4" cy="635.7" r="4.8" fill="#000"/>
<path d="M78.6 635.7 L78.6 657" fill="none" stroke="#000" stroke-width="3.3" stroke-linecap="butt" stroke-linejoin="miter"/>
<circle cx="78.6" cy="635.7" r="4.8" fill="#000"/>
<path d="M103 635.7 L103 657" fill="none" stroke="#000" stroke-width="3.3" stroke-linecap="butt" stroke-linejoin="miter"/>
<circle cx="103" cy="635.7" r="4.8" fill="#000"/>
<path d="M307.8 634.5 L307.8 657" fill="none" stroke="#000" stroke-width="3.3" stroke-linecap="butt" stroke-linejoin="miter"/>
<path d="M299.3 634.5 L316.3 634.5" fill="none" stroke="#000" stroke-width="4.0" stroke-linecap="butt" stroke-linejoin="miter"/>
<text transform="translate(250.70 474.2) scale(0.927 1)" font-size="24" text-anchor="start" fill="#000" >VD1</text>
<text transform="translate(305.44 473) scale(1.101 1)" font-size="25" text-anchor="start" fill="#000" >K3</text>
<path d="M361 458.8 L361 501.5" fill="none" stroke="#000" stroke-width="3.3" stroke-linecap="butt" stroke-linejoin="miter"/>
<path d="M351.2 458.8 L370.8 458.8" fill="none" stroke="#000" stroke-width="4.0" stroke-linecap="butt" stroke-linejoin="miter"/>
<circle cx="360.8" cy="483" r="3.2" fill="#000"/>
<text x="366.75" y="491.5" font-size="19.7" text-anchor="start" fill="#000" >31</text>
<rect x="326.3" y="501.5" width="68.7" height="65.8" fill="none" stroke="#000" stroke-width="3.6"/>
<path d="M361 483 L309.3 483 L309.3 586 L343.5 586 L343.5 567.5" fill="none" stroke="#000" stroke-width="3.3" stroke-linecap="butt" stroke-linejoin="miter"/>
<circle cx="331.4" cy="586" r="4.2" fill="#000"/>
<path d="M331.4 586 L331.4 657" fill="none" stroke="#000" stroke-width="3.3" stroke-linecap="butt" stroke-linejoin="miter"/>
<path d="M379.4 567.5 L379.4 657" fill="none" stroke="#000" stroke-width="3.3" stroke-linecap="butt" stroke-linejoin="miter"/>
<polygon points="299.9,526.8 318.7,526.8 309.3,540" fill="#fff" stroke="#000" stroke-width="2.7" stroke-linejoin="miter"/>
<path d="M309.3 526 L309.3 541" fill="none" stroke="#000" stroke-width="3.3" stroke-linecap="butt" stroke-linejoin="miter"/>
<path d="M298.6 540.8 L319.8 540.8" fill="none" stroke="#000" stroke-width="3.4" stroke-linecap="butt" stroke-linejoin="miter"/>
<path d="M278.1 475.6 L304.5 526.5" fill="none" stroke="#000" stroke-width="1.2" stroke-linecap="butt" stroke-linejoin="miter"/>
<text x="346.05" y="586.7" font-size="19.7" text-anchor="start" fill="#000" >49</text>
<text x="381.55" y="586.7" font-size="19.7" text-anchor="start" fill="#000" >49a</text>
<text transform="translate(717.54 475) scale(1.113 1)" font-size="24.7" text-anchor="start" fill="#000" >K2</text>
<path d="M665.8 455.8 L665.8 498" fill="none" stroke="#000" stroke-width="3.3" stroke-linecap="butt" stroke-linejoin="miter"/>
<path d="M656.3 455.8 L675.3 455.8" fill="none" stroke="#000" stroke-width="4.0" stroke-linecap="butt" stroke-linejoin="miter"/>
<circle cx="665.7" cy="476.2" r="4.0" fill="#000"/>
<path d="M665.8 476.3 L699.8 476.3 L699.8 498" fill="none" stroke="#000" stroke-width="3.3" stroke-linecap="butt" stroke-linejoin="miter"/>
<text transform="translate(702.08 488) scale(1.194 1)" font-size="16.5" text-anchor="start" fill="#000" >R</text>
<text transform="translate(638.62 487.4) scale(1.02 1)" font-size="17.5" text-anchor="start" fill="#000" >31</text>
<rect x="617.7" y="498" width="141.3" height="68.7" fill="none" stroke="#000" stroke-width="3.3"/>
<path d="M630.6 566.5 L630.6 657" fill="none" stroke="#000" stroke-width="3.3" stroke-linecap="butt" stroke-linejoin="miter"/>
<path d="M654 566.5 L654 657" fill="none" stroke="#000" stroke-width="3.3" stroke-linecap="butt" stroke-linejoin="miter"/>
<path d="M700 566.5 L700 657" fill="none" stroke="#000" stroke-width="3.3" stroke-linecap="butt" stroke-linejoin="miter"/>
<path d="M721 566.5 L721 657" fill="none" stroke="#000" stroke-width="3.3" stroke-linecap="butt" stroke-linejoin="miter"/>
<path d="M746.8 566.5 L746.8 657" fill="none" stroke="#000" stroke-width="3.3" stroke-linecap="butt" stroke-linejoin="miter"/>
<text transform="translate(634.79 587.3) scale(1.142 1)" font-size="17.5" text-anchor="start" fill="#000" >S</text>
<text transform="translate(657.14 587.3) scale(1.062 1)" font-size="18" text-anchor="start" fill="#000" >15</text>
<text x="705.39" y="587.3" font-size="17.5" text-anchor="start" fill="#000" >I</text>
<text x="750.57" y="586.3" font-size="19" text-anchor="start" fill="#000" >86</text>
<text transform="translate(751.54 610) scale(1.023 1)" font-size="19.5" text-anchor="start" fill="#000" >31b</text>
<path d="M721.3 576.3 L751.3 601.3" fill="none" stroke="#000" stroke-width="1.2" stroke-linecap="butt" stroke-linejoin="miter"/>
<circle cx="654.3" cy="593.3" r="3.6" fill="#000"/>
<path d="M654 593.3 L674 593.3 L674 635" fill="none" stroke="#000" stroke-width="3.3" stroke-linecap="butt" stroke-linejoin="miter"/>
<polygon points="665.6,621.4 682.4,621.4 674,609.6" fill="#fff" stroke="#000" stroke-width="3.3" stroke-linejoin="miter"/>
<path d="M674 608 L674 622" fill="none" stroke="#000" stroke-width="3.3" stroke-linecap="butt" stroke-linejoin="miter"/>
<path d="M663.8 607.6 L684.4 607.6" fill="none" stroke="#000" stroke-width="3.2" stroke-linecap="butt" stroke-linejoin="miter"/>
<path d="M665 635 L684.4 635" fill="none" stroke="#000" stroke-width="4.0" stroke-linecap="butt" stroke-linejoin="miter"/>
<text transform="translate(597.10 627.5) scale(0.942 1)" font-size="23.5" text-anchor="start" fill="#000" >VD</text>
<text x="634.02" y="627.5" font-size="23.5" text-anchor="start" fill="#000" >2</text>
</svg>
</body></html>
